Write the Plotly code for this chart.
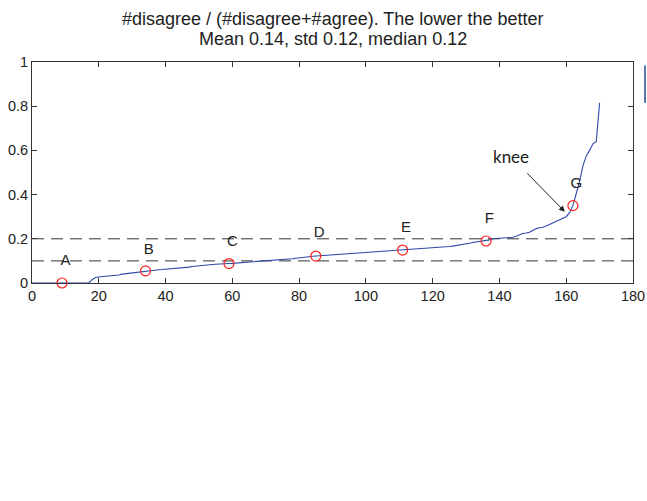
import plotly.graph_objects as go

# Sorted ratio values, index 0..170
ratio = [
    0, 0, 0, 0, 0, 0, 0, 0, 0, 0, 0, 0, 0, 0, 0, 0, 0, 0,
    0.015, 0.025, 0.027, 0.028, 0.029, 0.031, 0.032, 0.033, 0.036, 0.040,
    0.042, 0.045, 0.047, 0.049, 0.051, 0.053, 0.055, 0.057, 0.058, 0.059,
    0.060, 0.061, 0.062, 0.063, 0.064, 0.066, 0.067, 0.068, 0.070, 0.072,
    0.075, 0.077, 0.078, 0.080, 0.082, 0.083, 0.084, 0.085, 0.085, 0.086,
    0.087, 0.088, 0.089, 0.090, 0.091, 0.092, 0.093, 0.094, 0.096, 0.097,
    0.098, 0.099, 0.100, 0.101, 0.102, 0.103, 0.105, 0.106, 0.107, 0.108,
    0.110, 0.112, 0.113, 0.115, 0.117, 0.119, 0.121, 0.122, 0.124, 0.125,
    0.126, 0.127, 0.129, 0.130, 0.131, 0.132, 0.133, 0.134, 0.135, 0.136,
    0.137, 0.138, 0.139, 0.140, 0.141, 0.142, 0.143, 0.144, 0.145, 0.146,
    0.147, 0.148, 0.148, 0.149, 0.150, 0.151, 0.152, 0.153, 0.154, 0.155,
    0.156, 0.157, 0.158, 0.159, 0.160, 0.161, 0.163, 0.165, 0.167, 0.169,
    0.171, 0.173, 0.176, 0.180, 0.183, 0.185, 0.187, 0.188, 0.190, 0.195,
    0.200, 0.201, 0.202, 0.203, 0.203, 0.204, 0.207, 0.212, 0.218, 0.224,
    0.226, 0.230, 0.238, 0.246, 0.250, 0.252, 0.258, 0.265, 0.272, 0.280,
    0.288, 0.295, 0.300, 0.318, 0.350, 0.405, 0.460, 0.530, 0.575, 0.600,
    0.630, 0.640, 0.815,
]
index = list(range(len(ratio)))

# Marked sample points
mark_labels = ["A", "B", "C", "D", "E", "F", "G"]
mark_x = [9, 34, 59, 85, 111, 136, 162]
mark_y = [0.0, 0.055, 0.088, 0.122, 0.149, 0.190, 0.350]
label_y = [0.10, 0.15, 0.183, 0.224, 0.246, 0.287, 0.447]

thresholds = [0.1, 0.2]

title_lines = ["#disagree / (#disagree+#agree). The lower the better",
               "Mean 0.14, std 0.12, median 0.12"]

x_ticks = list(range(0, 181, 20))
y_ticks = [0, 0.2, 0.4, 0.6, 0.8, 1]

FONT = "Liberation Sans, Arial, Helvetica, sans-serif"

fig = go.Figure()

fig.add_trace(go.Scatter(
    x=index, y=ratio, mode="lines",
    line=dict(color="#2d4aa8", width=1.1),
    showlegend=False, hoverinfo="skip",
))

fig.add_trace(go.Scatter(
    x=mark_x, y=mark_y, mode="markers",
    marker=dict(symbol="circle-open", size=10, color="#ff2020",
                line=dict(width=1.2, color="#ff2020")),
    showlegend=False, hoverinfo="skip", cliponaxis=False,
))

fig.add_trace(go.Scatter(
    x=[x + 1 for x in mark_x], y=label_y, mode="text",
    text=mark_labels,
    textfont=dict(family=FONT, size=15, color="#222"),
    showlegend=False, hoverinfo="skip",
))

for t in thresholds:
    fig.add_shape(type="line", xref="x", yref="y", x0=0, x1=180, y0=t, y1=t,
                  line=dict(color="#333", width=1, dash="12px,7px"), layer="below")

# knee annotation
fig.add_annotation(x=143.6, y=0.571, xref="x", yref="y", text="knee",
                   showarrow=False,
                   font=dict(family="Lato, Open Sans, sans-serif", size=17, color="#222"))
fig.add_annotation(x=159.6, y=0.322, xref="x", yref="y", ax=147.9, ay=0.503,
                   axref="x", ayref="y", text="", showarrow=True,
                   arrowhead=2, arrowsize=1.2, arrowwidth=1, arrowcolor="#222")

# title
for i, line in enumerate(title_lines):
    fig.add_annotation(x=0.5, y=1, xref="paper", yref="paper", text=line,
                       showarrow=False, yanchor="middle", yshift=43 - 20 * i,
                       font=dict(family=FONT, size=18, color="#222"))

# stray cropped element at right edge
fig.add_shape(type="line", xref="paper", yref="paper", x0=1.02, x1=1.02,
              y0=0.815, y1=0.985, line=dict(color="#5b78b0", width=2))

axis_common = dict(
    showgrid=False, zeroline=False, showline=True, linecolor="#333",
    linewidth=1, mirror="ticks", ticks="inside", ticklen=5, tickcolor="#333",
    tickfont=dict(family=FONT, size=14.5, color="#222"), automargin=False,
    ticklabeloverflow="allow",
)
fig.update_xaxes(range=[0, 180], tickvals=x_ticks, **axis_common)
fig.update_yaxes(range=[0, 1], tickvals=y_ticks, **axis_common)

fig.update_layout(
    width=647, height=501,
    margin=dict(l=32, r=14, t=62, b=218),
    paper_bgcolor="white", plot_bgcolor="white",
)

fig.write_html(
    "out.html",
    config={"displayModeBar": False, "staticPlot": True},
    post_script="document.body.style.margin='0';document.body.style.overflow='hidden';",
)
